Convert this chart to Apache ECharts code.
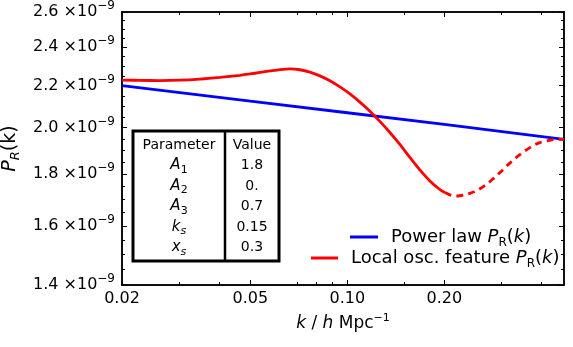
<!DOCTYPE html>
<html>
<head>
<meta charset="utf-8">
<script src="https://cdn.jsdelivr.net/npm/echarts@6/dist/echarts.min.js"></script>
<style>
  html, body { margin: 0; padding: 0; background: #fff; }
  #chart { width: 573px; height: 347px; }
</style>
</head>
<body>
<div id="chart"></div>
<script>
// P_R(k) values below are in units of 1e-9

// power law spectrum (straight line in log-log)
const powerK = [0.02, 0.05, 0.1, 0.2, 0.47];
const powerP = [2.200, 2.124, 2.069, 2.015, 1.948];

// local oscillation feature, solid part
const oscK = [0.02, 0.02274, 0.02623, 0.03025, 0.03491, 0.04026, 0.04644, 0.04988, 0.05357, 0.05754,
              0.06180, 0.06636, 0.07127, 0.07656, 0.08223, 0.08830, 0.09485, 0.10186, 0.10940, 0.11750,
              0.12619, 0.13553, 0.14556, 0.15633, 0.16790, 0.18033, 0.19368, 0.20072];
const oscP = [2.2280, 2.2265, 2.2255, 2.2275, 2.2331, 2.2417, 2.2524, 2.2591, 2.2668, 2.2745,
              2.2817, 2.2856, 2.2809, 2.2683, 2.2493, 2.2245, 2.1939, 2.1594, 2.1197, 2.0763,
              2.0288, 1.9784, 1.9253, 1.8697, 1.8175, 1.7727, 1.7385, 1.7263];

// dashed continuation
const oscDashK = [0.20072, 0.20800, 0.21868, 0.23996, 0.25772, 0.27680, 0.29726, 0.31928,
                  0.34292, 0.36830, 0.39556, 0.43089, 0.47];
const oscDashP = [1.7263, 1.7178, 1.7131, 1.7232, 1.7412, 1.7699, 1.8064, 1.8457,
                  1.8816, 1.9118, 1.9336, 1.9455, 1.9478];

// axes
const xMin = 0.02, xMax = 0.47;
const yMin = 1.4e-9, yMax = 2.6e-9;
const xMajor = [0.02, 0.05, 0.1, 0.2];
const xMajorText = ['0.02', '0.05', '0.10', '0.20'];
const xMinor = [0.03, 0.04, 0.07, 0.08, 0.09, 0.15, 0.3, 0.4];
const yMajor = [1.4e-9, 1.6e-9, 1.8e-9, 2.0e-9, 2.2e-9, 2.4e-9, 2.6e-9];
const yMinor = [1.45e-9, 1.5e-9, 1.55e-9, 1.65e-9, 1.7e-9, 1.75e-9, 1.85e-9, 1.9e-9, 1.95e-9,
                2.05e-9, 2.1e-9, 2.15e-9, 2.25e-9, 2.3e-9, 2.35e-9, 2.45e-9, 2.5e-9, 2.55e-9];

// inset table
const paramNames = ['Parameter', '{i|A}{sub|1}', '{i|A}{sub|2}', '{i|A}{sub|3}', '{i|k}{isub|s}', '{i|x}{isub|s}'];
const paramValues = ['Value', '1.8', '0.', '0.7', '0.15', '0.3'];

const FONT = 'DejaVu Sans';
const pair = (ks, vs) => ks.map((k, i) => [k, vs[i] * 1e-9]);

function xAxisDef(pos, ticks, len, withLabels) {
  return {
    type: 'log', logBase: 10, min: xMin, max: xMax, position: pos,
    axisLine: { show: true, onZero: false, lineStyle: { color: '#000', width: 1.5 } },
    axisTick: { show: true, inside: true, length: len, customValues: ticks, lineStyle: { color: '#000', width: 1 } },
    axisLabel: withLabels ? {
      show: true, customValues: ticks, margin: 6, color: '#000', fontFamily: FONT, fontSize: 16,
      formatter: v => {
        const i = xMajor.findIndex(t => Math.abs(t - v) < 1e-6);
        return i >= 0 ? xMajorText[i] : '';
      }
    } : { show: false },
    splitLine: { show: false }, minorTick: { show: false }
  };
}

function yAxisDef(pos, ticks, len, withLabels) {
  return {
    type: 'log', logBase: 10, min: yMin, max: yMax, position: pos,
    axisLine: { show: true, onZero: false, lineStyle: { color: '#000', width: 1.5 } },
    axisTick: { show: true, inside: true, length: len, customValues: ticks, lineStyle: { color: '#000', width: 1 } },
    axisLabel: withLabels ? {
      show: true, customValues: ticks, margin: 7,
      formatter: v => '{m|' + (v * 1e9).toFixed(1) + ' \u00d710}{s|\u22129}',
      rich: {
        m: { fontFamily: FONT, fontSize: 16, color: '#000', lineHeight: 24 },
        s: { fontFamily: FONT, fontSize: 12, color: '#000', lineHeight: 13, verticalAlign: 'top' }
      }
    } : { show: false },
    splitLine: { show: false }, minorTick: { show: false }
  };
}

const legendRich = {
  n: { fontFamily: FONT, fontSize: 18, color: '#000', lineHeight: 24 },
  np: { fontFamily: FONT, fontSize: 18, color: '#000', lineHeight: 24, padding: [0, 0, 0, 8] },
  i: { fontFamily: FONT, fontSize: 18, fontStyle: 'italic', color: '#000', lineHeight: 24 },
  sub: { fontFamily: FONT, fontSize: 12, color: '#000', lineHeight: 13, verticalAlign: 'bottom' }
};
const prk = '{i|P}{sub|R}{n|(}{i|k}{n|)}';

const chart = echarts.init(document.getElementById('chart'), null, { renderer: 'canvas' });

const tableLeft = 133, tableTop = 131, tableRight = 279, tableBottom = 261, tableDiv = 225;
const rowY0 = 145, rowStep = 20.5;
const tableRich = {
  i: { fontFamily: FONT, fontSize: 15, fontStyle: 'italic', fill: '#000', lineHeight: 20 },
  sub: { fontFamily: FONT, fontSize: 11, fill: '#000', lineHeight: 10, verticalAlign: 'bottom' },
  isub: { fontFamily: FONT, fontSize: 11, fontStyle: 'italic', fill: '#000', lineHeight: 10, verticalAlign: 'bottom' }
};
const tableGraphics = [
  { type: 'rect', shape: { x: tableLeft, y: tableTop, width: tableRight - tableLeft, height: tableBottom - tableTop },
    style: { fill: '#fff', stroke: '#000', lineWidth: 3 }, z: 100 },
  { type: 'line', shape: { x1: tableDiv, y1: tableTop, x2: tableDiv, y2: tableBottom },
    style: { stroke: '#000', lineWidth: 2.5 }, z: 101 }
];
paramNames.forEach((name, r) => {
  tableGraphics.push({
    type: 'text', z: 102,
    style: { text: name, x: (tableLeft + tableDiv) / 2, y: rowY0 + r * rowStep, align: 'center', verticalAlign: 'middle',
             font: '14px "' + FONT + '"', fill: '#000', rich: tableRich }
  });
  tableGraphics.push({
    type: 'text', z: 102,
    style: { text: paramValues[r], x: (tableDiv + tableRight) / 2, y: rowY0 + r * rowStep, align: 'center', verticalAlign: 'middle',
             font: '14px "' + FONT + '"', fill: '#000' }
  });
});

const option = {
  animation: false,
  backgroundColor: '#fff',
  grid: { left: 122, right: 9, top: 12, bottom: 62, outerBoundsMode: 'none' },
  xAxis: [
    Object.assign(xAxisDef('bottom', xMajor, 5, true), {
      name: '{i|k}{n| / }{i|h}{n| Mpc}{s|\u22121}', nameLocation: 'middle', nameGap: 28,
      nameTextStyle: {
        rich: {
          n: { fontFamily: FONT, fontSize: 17, color: '#000', lineHeight: 22 },
          i: { fontFamily: FONT, fontSize: 17, fontStyle: 'italic', color: '#000', lineHeight: 22 },
          s: { fontFamily: FONT, fontSize: 11, color: '#000', lineHeight: 12, verticalAlign: 'top' }
        }
      }
    }),
    xAxisDef('bottom', xMinor, 3, false),
    xAxisDef('top', xMajor, 5, false),
    xAxisDef('top', xMinor, 3, false)
  ],
  yAxis: [
    Object.assign(yAxisDef('left', yMajor, 5, true), {
      name: '{i|P}{isub|R}{n|(k)}', nameLocation: 'middle', nameRotate: 90, nameGap: 100,
      nameTextStyle: {
        rich: {
          n: { fontFamily: FONT, fontSize: 19, color: '#000', lineHeight: 24 },
          i: { fontFamily: FONT, fontSize: 19, fontStyle: 'italic', color: '#000', lineHeight: 24 },
          isub: { fontFamily: FONT, fontSize: 13, fontStyle: 'italic', color: '#000', lineHeight: 13, verticalAlign: 'bottom' }
        }
      }
    }),
    yAxisDef('left', yMinor, 3, false),
    yAxisDef('right', yMajor, 5, false),
    yAxisDef('right', yMinor, 3, false)
  ],
  legend: [
    { data: ['Power law'], left: 350, top: 228, icon: 'rect', itemWidth: 28, itemHeight: 3, padding: 0,
      formatter: () => '{np|Power law }' + prk, textStyle: { rich: legendRich } },
    { data: ['Local osc. feature'], left: 311, top: 249, icon: 'rect', itemWidth: 27, itemHeight: 3, padding: 0,
      formatter: () => '{np|Local osc. feature }' + prk, textStyle: { rich: legendRich } }
  ],
  series: [
    { name: 'Power law', type: 'line', data: pair(powerK, powerP), symbol: 'none', silent: true,
      lineStyle: { color: '#0000ff', width: 2.8 }, itemStyle: { color: '#0000ff' }, z: 3 },
    { name: 'Local osc. feature', type: 'line', data: pair(oscK, oscP), symbol: 'none', smooth: 0.3, silent: true,
      lineStyle: { color: '#ff0000', width: 2.8 }, itemStyle: { color: '#ff0000' }, z: 4 },
    { name: 'Local osc. feature (extrapolated)', type: 'line', data: pair(oscDashK, oscDashP), symbol: 'none', smooth: 0.3, silent: true,
      lineStyle: { color: '#ff0000', width: 2.8, type: [7, 5] }, itemStyle: { color: '#ff0000' }, z: 4 }
  ],
  graphic: tableGraphics
};

chart.setOption(option);
</script>
</body>
</html>
